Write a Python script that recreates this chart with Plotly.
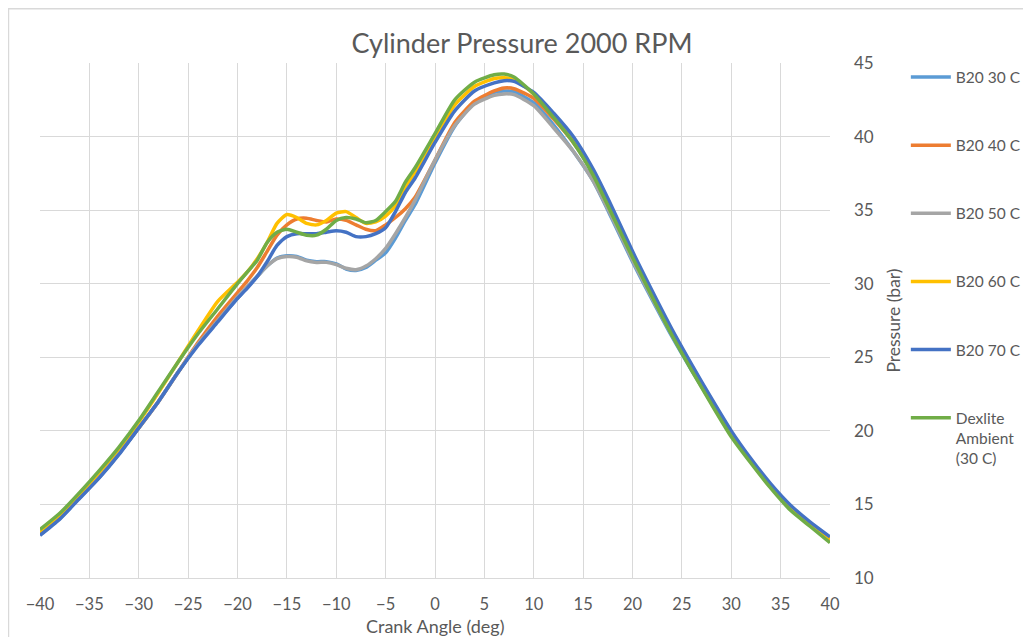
import plotly.graph_objects as go

crank_angle = [-40, -38, -36, -34, -32, -30, -28, -26, -24, -22, -20, -19, -18, -17, -16, -15,
               -14, -13, -12, -11, -10, -9, -8, -7, -6, -5, -4, -3, -2, 0, 2, 4, 6, 7, 8, 10,
               12, 14, 16, 18, 20, 22, 24, 26, 28, 30, 32, 34, 36, 38, 40]

b20_30c = [12.95, 14.05, 15.45, 16.85, 18.45, 20.2, 22.0, 24.0, 25.9, 27.5, 29.0, 29.8, 30.5, 31.2, 31.75, 31.9,
           31.85, 31.6, 31.5, 31.5, 31.35, 31.0, 30.9, 31.1, 31.6, 32.1, 33.1, 34.3, 35.4, 38.2, 40.7, 42.3, 43.0, 43.1, 43.05, 42.3,
           40.8, 39.0, 37.0, 34.3, 31.5, 28.9, 26.4, 24.1, 21.9, 19.8, 17.9, 16.2, 14.75, 13.65, 12.65]

b20_40c = [13.0, 14.1, 15.5, 16.9, 18.5, 20.2, 22.0, 24.0, 26.0, 27.8, 29.4, 30.2, 31.1, 32.2, 33.3, 34.0,
           34.4, 34.45, 34.3, 34.2, 34.4, 34.3, 34.0, 33.7, 33.6, 34.0, 34.5, 35.1, 35.9, 38.4, 40.95, 42.4, 43.1, 43.3, 43.25, 42.6,
           41.2, 39.6, 37.5, 34.8, 31.9, 29.3, 26.8, 24.4, 22.1, 19.9, 18.0, 16.3, 14.85, 13.7, 12.7]

b20_50c = [12.95, 14.05, 15.45, 16.85, 18.45, 20.2, 22.0, 24.0, 25.9, 27.5, 29.1, 29.8, 30.5, 31.2, 31.7, 31.85,
           31.8, 31.55, 31.45, 31.45, 31.3, 31.05, 30.95, 31.2, 31.7, 32.4, 33.4, 34.5, 35.7, 38.4, 40.75, 42.2, 42.8, 42.9, 42.85, 42.1,
           40.6, 39.0, 37.0, 34.4, 31.6, 29.0, 26.5, 24.2, 21.9, 19.8, 17.9, 16.2, 14.7, 13.6, 12.6]

b20_60c = [13.1, 14.3, 15.7, 17.2, 18.8, 20.6, 22.6, 24.7, 26.8, 28.8, 30.1, 30.8, 31.7, 32.8, 34.1, 34.7,
           34.5, 34.1, 34.0, 34.3, 34.8, 34.9, 34.5, 34.1, 34.2, 34.6, 35.3, 36.6, 37.6, 39.9, 42.15, 43.4, 43.95, 44.0, 43.9, 42.9,
           41.4, 39.7, 37.5, 34.8, 31.9, 29.3, 26.7, 24.3, 22.0, 19.8, 17.95, 16.25, 14.75, 13.6, 12.6]

b20_70c = [12.9, 14.0, 15.4, 16.8, 18.4, 20.2, 22.0, 24.0, 25.8, 27.4, 29.0, 29.7, 30.5, 31.5, 32.6, 33.2,
           33.4, 33.4, 33.4, 33.5, 33.6, 33.5, 33.2, 33.2, 33.4, 33.8, 34.9, 36.2, 37.2, 39.6, 41.75, 43.1, 43.65, 43.8, 43.75, 43.0,
           41.6, 40.0, 37.8, 35.1, 32.2, 29.5, 26.9, 24.5, 22.2, 20.0, 18.1, 16.4, 14.95, 13.8, 12.8]

dexlite = [13.3, 14.4, 15.8, 17.3, 18.9, 20.7, 22.7, 24.7, 26.6, 28.3, 30.0, 30.8, 31.6, 32.8, 33.5, 33.7,
           33.5, 33.3, 33.3, 33.7, 34.3, 34.5, 34.4, 34.15, 34.3, 34.9, 35.6, 36.9, 37.9, 40.2, 42.5, 43.7, 44.2, 44.25, 44.05, 42.9,
           41.3, 39.6, 37.4, 34.6, 31.8, 29.1, 26.5, 24.1, 21.8, 19.6, 17.8, 16.1, 14.6, 13.5, 12.4]

series_names = ["B20 30 C", "B20 40 C", "B20 50 C", "B20 60 C", "B20 70 C", "Dexlite<br>Ambient<br>(30 C)"]
series_values = [b20_30c, b20_40c, b20_50c, b20_60c, b20_70c, dexlite]
series_colors = ["#5B9BD5", "#ED7D31", "#A5A5A5", "#FFC000", "#4472C4", "#70AD47"]

x_ticks = list(range(-40, 41, 5))
y_ticks = list(range(10, 46, 5))

FONT = "Lato"
TXT = "#595959"

fig = go.Figure()
for i, (name, vals, col) in enumerate(zip(series_names, series_values, series_colors)):
    fig.add_trace(go.Scatter(
        x=crank_angle, y=vals, name=name, mode="lines",
        line=dict(color=col, width=3.5, shape="spline", smoothing=0.6),
        legendgroup=f"g{i}",
    ))

fig.update_layout(
    width=1031, height=637,
    margin=dict(l=32, r=209, t=55, b=67, autoexpand=False),
    paper_bgcolor="white", plot_bgcolor="white",
    font=dict(family=FONT, color=TXT, size=17),
    title=dict(text="Cylinder Pressure 2000 RPM", x=0.4985, xref="container", xanchor="center",
               y=0.9435, yref="container", yanchor="middle",
               font=dict(family=FONT, size=27, color=TXT)),
    xaxis=dict(range=[-40, 40], tickvals=x_ticks, showgrid=True, gridcolor="#D9D9D9", gridwidth=1,
               zeroline=False, showline=True, linecolor="#D9D9D9", linewidth=1,
               ticks="", ticklabelstandoff=11, tickfont=dict(size=16.5, color=TXT)),
    yaxis=dict(range=[10, 45], tickvals=y_ticks, side="right", showgrid=True, gridcolor="#D9D9D9", gridwidth=1,
               zeroline=False, showline=False, ticks="", ticklabelstandoff=23,
               tickfont=dict(size=17, color=TXT),
               title=dict(text="Pressure (bar)", font=dict(size=17.5, color=TXT), standoff=14)),
    legend=dict(x=1.096, y=1.005, xanchor="left", yanchor="top", tracegroupgap=45,
                valign="top", itemwidth=40, maxheight=1.0,
                font=dict(size=15.5, color=TXT), bgcolor="rgba(0,0,0,0)"),
    showlegend=True,
)

fig.add_annotation(text="Crank Angle (deg)", xref="paper", yref="paper", x=0.5, y=-0.093,
                   xanchor="center", yanchor="middle", showarrow=False,
                   font=dict(family=FONT, size=18, color=TXT))

fig.add_shape(type="rect", xref="paper", yref="paper", x0=-0.0399, x1=1.4, y0=-0.3, y1=1.1053,
              line=dict(color="#D9D9D9", width=1.5), fillcolor="rgba(0,0,0,0)", layer="below")

fig.write_html("out.html")
